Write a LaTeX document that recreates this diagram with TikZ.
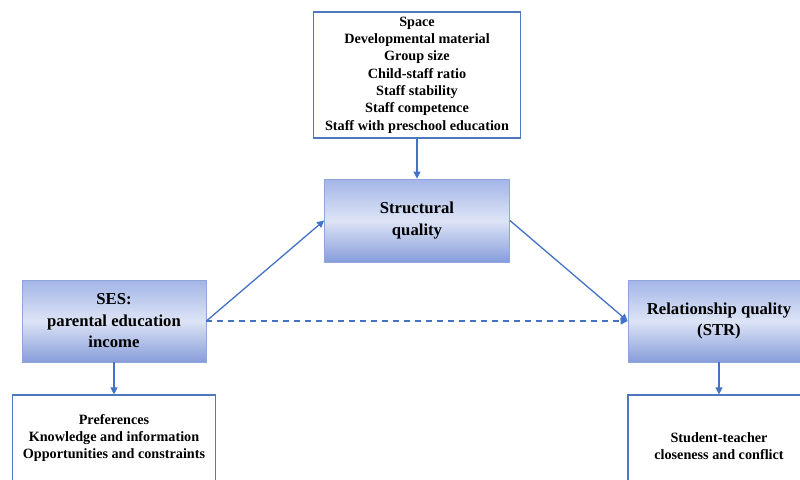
\documentclass[tikz,border=0pt]{standalone}
\usepackage{fontspec}
\setmainfont{Liberation Serif}
\usetikzlibrary{arrows.meta}
\definecolor{lineblue}{HTML}{4472C4}
\definecolor{boxedge}{HTML}{8FA6DC}
\definecolor{gtop}{HTML}{A3B5E7}
\definecolor{gmid}{HTML}{DDE4F6}
\definecolor{gbot}{HTML}{879DDA}
\definecolor{whiteedge}{HTML}{4F77BE}
\pgfdeclareverticalshading{boxgrad}{100bp}{color(0bp)=(gbot); color(25bp)=(gbot); color(50bp)=(gmid); color(75bp)=(gtop); color(100bp)=(gtop)}
\tikzset{
  gradbox/.style={rectangle, draw=boxedge, line width=0.8pt, shading=boxgrad, align=center, inner sep=0pt, font=\fontsize{16.7pt}{21.5pt}\selectfont\bfseries},
  whitebox/.style={rectangle, draw=whiteedge, line width=1.2pt, fill=white, align=center, inner sep=0pt, font=\fontsize{14.2pt}{17.3pt}\selectfont\bfseries},
  conn/.style={draw=lineblue, line width=1.3pt, -{Triangle[length=7pt,width=7pt]}},
  dconn/.style={conn, dash pattern=on 6pt off 5pt}
}
\begin{document}
\begin{tikzpicture}[x=1pt,y=-1pt]
\useasboundingbox (0,0) rectangle (800,479);
\clip (0,0) rectangle (800,479);
\fill[white] (0,0) rectangle (800,479);
\node[whitebox, minimum width=207pt, minimum height=126pt] (top) at (417,75) {Space\\Developmental material\\Group size\\Child-staff ratio\\Staff stability\\Staff competence\\Staff with preschool education};
\node[gradbox, minimum width=185pt, minimum height=83pt] (sq) at (417,220.5) {Structural\\quality};
\node[gradbox, minimum width=184pt, minimum height=82pt] (ses) at (114,321) {SES:\\parental education\\income};
\node[gradbox, minimum width=182pt, minimum height=82pt] (rq) at (719,321) {Relationship quality\\(STR)};
\node[whitebox, minimum width=203pt, minimum height=86pt] (pref) at (114,438) {Preferences\\Knowledge and information\\Opportunities and constraints};
\node[whitebox, minimum width=182pt, minimum height=102pt] (st) at (719,446) {Student-teacher\\closeness and conflict};
\draw[conn] (top.south) -- (sq.north);
\draw[conn] (ses.east) -- (sq.west);
\draw[conn] (sq.east) -- (rq.west);
\draw[dconn] (ses.east) -- (rq.west);
\draw[conn] (ses.south) -- (pref.north);
\draw[conn] (rq.south) -- (st.north);
\end{tikzpicture}
\end{document}
